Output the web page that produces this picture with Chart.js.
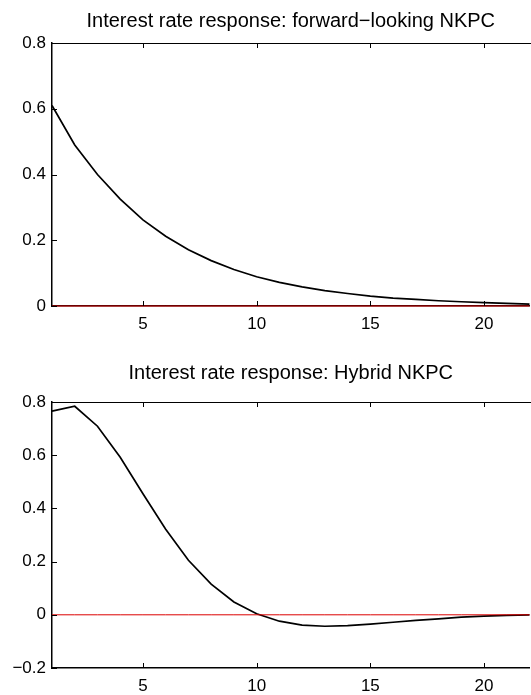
<!DOCTYPE html>
<html>
<head>
<meta charset="utf-8">
<script src="https://cdn.jsdelivr.net/npm/chart.js@4/dist/chart.umd.min.js"></script>
<style>
  body { margin: 0; background: #fff; overflow: hidden; }
  canvas { display: block; }
</style>
</head>
<body>
<canvas id="top" width="531" height="347"></canvas>
<canvas id="bottom" width="531" height="348"></canvas>
<script>
// periods after the shock
const periods = [1, 2, 3, 4, 5, 6, 7, 8, 9, 10, 11, 12, 13, 14, 15, 16, 17, 18, 19, 20, 21, 22];

// interest rate response, forward-looking NKPC
const forwardRate = [0.61, 0.49, 0.40, 0.325, 0.262, 0.212, 0.171, 0.138, 0.111, 0.089, 0.072,
                     0.058, 0.047, 0.038, 0.030, 0.024, 0.020, 0.016, 0.013, 0.010, 0.008, 0.006];

// interest rate response, hybrid NKPC
const hybridRate = [0.766, 0.784, 0.709, 0.592, 0.455, 0.322, 0.205, 0.115, 0.048, 0.004, -0.024,
                    -0.039, -0.043, -0.041, -0.035, -0.028, -0.021, -0.015, -0.009, -0.005, -0.002, 0.0];

const zeroLine = periods.map(() => 0);

const xTicks = [5, 10, 15, 20];
const yTicksTop = [0, 0.2, 0.4, 0.6, 0.8];
const yTicksBottom = [-0.2, 0, 0.2, 0.4, 0.6, 0.8];

const FONT = 'Liberation Sans, Arial, Helvetica, sans-serif';

// box on top + inward tick marks like matlab
const boxTicks = {
    id: 'boxTicks',
    afterDraw(chart) {
        const { ctx, chartArea: a, scales } = chart;
        ctx.save();
        ctx.strokeStyle = '#000';
        ctx.lineWidth = 1;
        ctx.beginPath();
        ctx.moveTo(a.left, a.top + 0.5);
        ctx.lineTo(a.right + 2, a.top + 0.5);
        scales.x.ticks.forEach(t => {
            const px = Math.round(scales.x.getPixelForValue(t.value)) + 0.5;
            ctx.moveTo(px, a.top);
            ctx.lineTo(px, a.top + 5);
            ctx.moveTo(px, a.bottom);
            ctx.lineTo(px, a.bottom - 5);
        });
        scales.y.ticks.forEach(t => {
            const py = Math.round(scales.y.getPixelForValue(t.value)) + 0.5;
            ctx.moveTo(a.left, py);
            ctx.lineTo(a.left + 5, py);
        });
        ctx.stroke();
        ctx.restore();
    }
};

function makeChart(id, title, values, yMin, yTicks, titlePad, xHeight) {
    const ctx = document.getElementById(id).getContext('2d');
    return new Chart(ctx, {
        type: 'line',
        data: {
            datasets: [{
                data: periods.map((p, i) => ({ x: p, y: zeroLine[i] })),
                borderColor: 'rgb(220, 0, 0)',
                borderWidth: 1,
                pointRadius: 0,
                clip: 3
            }, {
                data: periods.map((p, i) => ({ x: p, y: values[i] })),
                borderColor: '#000',
                borderWidth: 1.7,
                pointRadius: 0,
                tension: 0,
                clip: 3
            }]
        },
        options: {
            responsive: false,
            animation: false,
            layout: { padding: { left: 0, right: 1.5, top: 0, bottom: 0 } },
            plugins: {
                legend: { display: false },
                tooltip: { enabled: false },
                title: {
                    display: true,
                    text: title,
                    fullSize: false,
                    color: '#000',
                    font: { family: FONT, size: 20, weight: 'normal', lineHeight: 1.2 },
                    padding: titlePad
                }
            },
            scales: {
                x: {
                    type: 'linear',
                    min: 1,
                    max: 22,
                    afterBuildTicks: s => { s.ticks = xTicks.map(v => ({ value: v })); },
                    afterFit: s => { s.height = xHeight; },
                    grid: { display: false, drawTicks: false },
                    border: { display: true, color: '#000', width: 1.5 },
                    ticks: { color: '#000', padding: 8, maxRotation: 0, font: { family: FONT, size: 17 } }
                },
                y: {
                    min: yMin,
                    max: 0.8,
                    afterBuildTicks: s => { s.ticks = yTicks.map(v => ({ value: v })); },
                    afterFit: s => { s.width = 52; },
                    grid: { display: false, drawTicks: false },
                    border: { display: true, color: '#000', width: 1.5 },
                    ticks: {
                        color: '#000',
                        padding: 6,
                        font: { family: FONT, size: 17 },
                        callback: v => (v < 0 ? '\u2212' + Math.abs(v) : String(v))
                    }
                }
            }
        },
        plugins: [boxTicks]
    });
}

makeChart('top', 'Interest rate response: forward\u2212looking NKPC', forwardRate, 0, yTicksTop,
          { top: 9.5, bottom: 9.5 }, 41);
makeChart('bottom', 'Interest rate response: Hybrid NKPC', hybridRate, -0.2, yTicksBottom,
          { top: 14, bottom: 17 }, 27);
</script>
</body>
</html>
